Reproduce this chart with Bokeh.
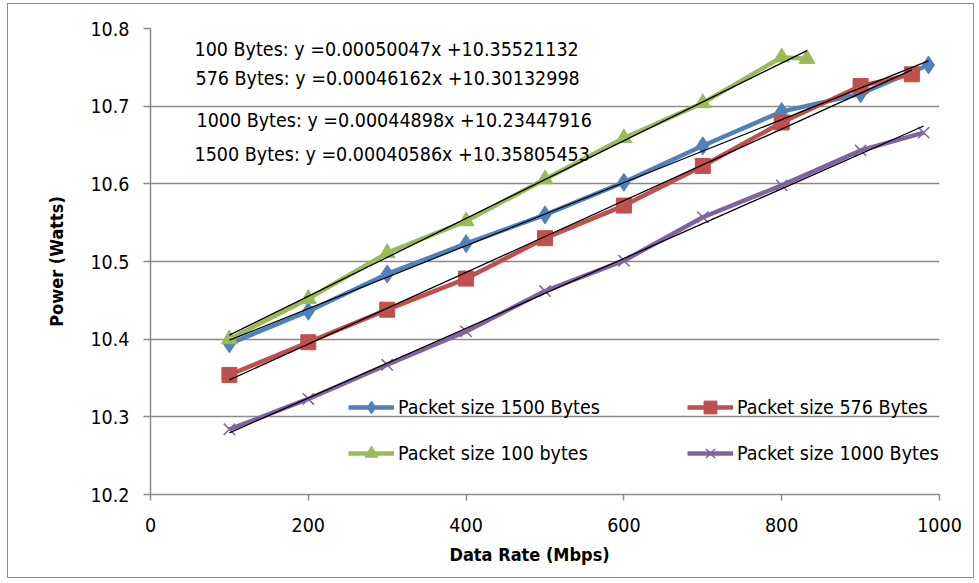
import numpy as np
from bokeh.plotting import figure
from bokeh.models import FixedTicker, PrintfTickFormatter, Label, Legend, LegendItem, Title
from bokeh.embed import file_html
from bokeh.resources import INLINE

# Measured power (W) against data rate (Mbps) for four packet sizes
rate_1500 = [100, 200, 300, 400, 500, 600, 700, 800, 900, 986]
power_1500 = [10.394, 10.436, 10.484, 10.523, 10.560, 10.602, 10.649, 10.693, 10.716, 10.753]

rate_576 = [100, 200, 300, 400, 500, 600, 700, 800, 900, 965]
power_576 = [10.354, 10.396, 10.438, 10.478, 10.530, 10.572, 10.623, 10.679, 10.726, 10.741]

rate_100 = [100, 200, 300, 400, 500, 600, 700, 800, 832]
power_100 = [10.400, 10.452, 10.511, 10.552, 10.606, 10.659, 10.704, 10.763, 10.761]

rate_1000 = [100, 200, 300, 400, 500, 600, 700, 800, 900, 980]
power_1000 = [10.284, 10.323, 10.367, 10.410, 10.462, 10.501, 10.557, 10.598, 10.643, 10.666]

# Linear fits: (slope, intercept)
fit_100 = (0.00050047, 10.35521132)
fit_576 = (0.00046162, 10.30132998)
fit_1000 = (0.00044898, 10.23447916)
fit_1500 = (0.00040586, 10.35805453)

x_ticks = [0, 200, 400, 600, 800, 1000]
y_ticks = [10.2, 10.3, 10.4, 10.5, 10.6, 10.7, 10.8]

FONT = "DejaVu Sans Condensed"
GRAY = "#8a8a8a"

p = figure(width=967, height=575, x_range=(0, 1000), y_range=(10.2, 10.8),
           output_backend="svg", toolbar_location=None,
           min_border_left=142, min_border_right=36,
           min_border_top=24, min_border_bottom=85,
           margin=(3, 0, 0, 7), styles={"border": "1px solid #8c8c8c"})
p.outline_line_color = None
p.background_fill_color = "white"
p.border_fill_color = "white"

p.xgrid.grid_line_color = None
p.ygrid.grid_line_color = GRAY
p.ygrid.grid_line_width = 1.5
p.ygrid.ticker = FixedTicker(ticks=y_ticks)

for ax in (p.xaxis[0], p.yaxis[0]):
    ax.axis_line_color = GRAY
    ax.axis_line_width = 1.5
    ax.major_tick_line_color = GRAY
    ax.major_tick_line_width = 1.5
    ax.major_tick_in = 0
    ax.minor_tick_line_color = None
    ax.major_label_text_font = FONT
    ax.major_label_text_font_size = "19.5px"
    ax.major_label_text_color = "black"

p.xaxis.ticker = FixedTicker(ticks=x_ticks)
p.xaxis.formatter = PrintfTickFormatter(format="%d")
p.xaxis.major_tick_out = 6
p.xaxis.major_label_standoff = 17
p.yaxis.ticker = FixedTicker(ticks=y_ticks)
p.yaxis.formatter = PrintfTickFormatter(format="%.1f")
p.yaxis.major_tick_out = 7
p.yaxis.major_label_standoff = 14

p.yaxis.axis_label = "Power (Watts)"
p.yaxis.axis_label_text_font = FONT
p.yaxis.axis_label_text_font_size = "18px"
p.yaxis.axis_label_text_font_style = "bold"
p.yaxis.axis_label_text_color = "black"
p.yaxis.axis_label_standoff = 20

p.add_layout(Title(text="Data Rate (Mbps)", align="left", offset=299, standoff=15,
                   text_font=FONT, text_font_size="18px", text_font_style="bold",
                   text_color="black"), "below")

series = [
    ("Packet size 1500 Bytes", rate_1500, power_1500, fit_1500, "#4F81BD", "diamond", 18),
    ("Packet size 576 Bytes", rate_576, power_576, fit_576, "#C0504D", "square", 15),
    ("Packet size 100 bytes", rate_100, power_100, fit_100, "#9BBB59", "triangle", 16),
    ("Packet size 1000 Bytes", rate_1000, power_1000, fit_1000, "#8064A2", "x", 16),
]

items = {}
for name, xs, ys, fit, color, marker, size in series:
    lr = p.line(xs, ys, line_color=color, line_width=4.5, line_join="round")
    if marker == "x":
        sr = p.scatter(xs, ys, marker="x", size=size, line_color=color, line_width=1.5)
    else:
        sr = p.scatter(xs, ys, marker=marker, size=size,
                       fill_color=color, line_color=color, line_width=1)
    items[name] = LegendItem(label=name, renderers=[lr, sr])

# Trend lines from the fitted equations over each series' span
for name, xs, ys, fit, *_ in series:
    tx = np.array([xs[0], xs[-1]], dtype=float)
    p.line(tx, fit[0] * tx + fit[1], line_color="black", line_width=1.3)

legend_rows = [
    (["Packet size 1500 Bytes", "Packet size 576 Bytes"], 71),
    (["Packet size 100 bytes", "Packet size 1000 Bytes"], 25),
]
for names, y_off in legend_rows:
    leg = Legend(items=[items[n] for n in names], orientation="horizontal",
                 location=(198, y_off), padding=0, margin=0, spacing=0,
                 glyph_width=46, glyph_height=32, label_standoff=4,
                 label_width=289, label_height=20,
                 label_text_font=FONT, label_text_font_size="19.5px",
                 label_text_color="black",
                 border_line_color=None, background_fill_alpha=0)
    p.add_layout(leg)

# Fit equations
equations = [
    ("100 Bytes", fit_100, 55.8, 10.7726),
    ("576 Bytes", fit_576, 57.0, 10.7353),
    ("1000 Bytes", fit_1000, 58.3, 10.6812),
    ("1500 Bytes", fit_1500, 55.8, 10.6375),
]
for lbl, (m, b), ex, ey in equations:
    p.add_layout(Label(x=ex, y=ey, text=f"{lbl}: y ={m:.8f}x +{b:.8f}",
                       text_font=FONT, text_font_size="19.5px",
                       text_color="black", text_baseline="middle", text_align="left"))

open("out.html", "w").write(file_html(p, INLINE))
